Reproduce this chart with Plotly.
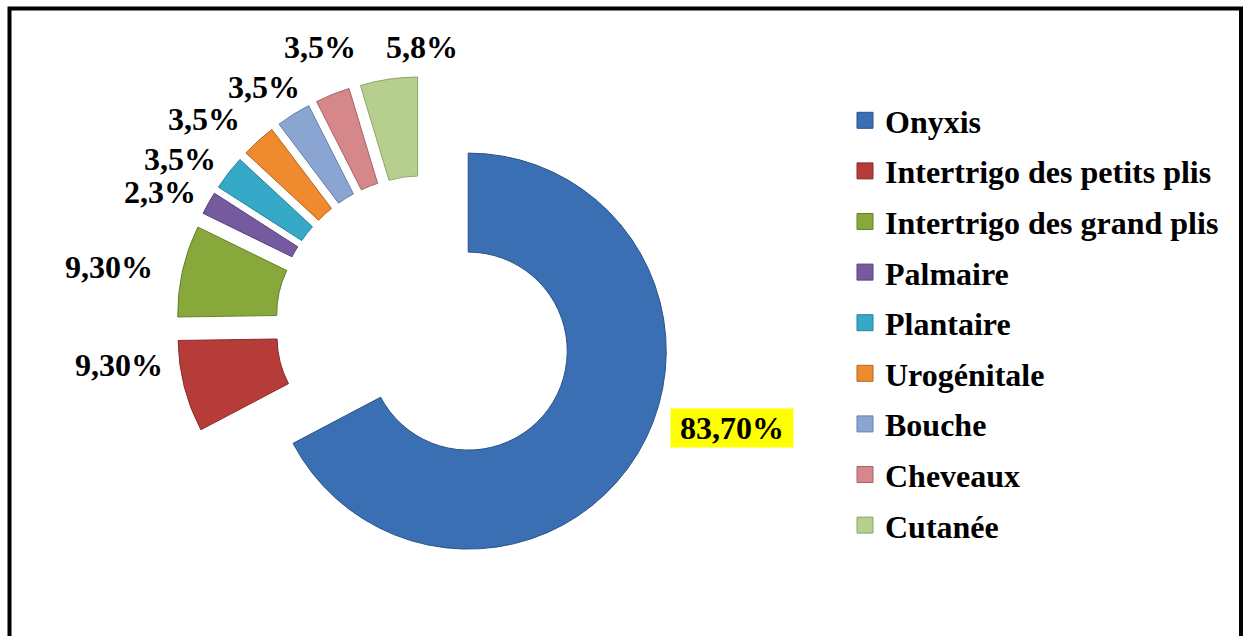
import math
import plotly.graph_objects as go

# Localisations cliniques et leur part (%)
categories = [
    "Onyxis",
    "Intertrigo des petits plis",
    "Intertrigo des grand plis",
    "Palmaire",
    "Plantaire",
    "Urogénitale",
    "Bouche",
    "Cheveaux",
    "Cutanée",
]
values = [83.7, 9.3, 9.3, 2.3, 3.5, 3.5, 3.5, 3.5, 5.8]
value_labels = ["83,70%", "9,30%", "9,30%", "2,3%", "3,5%", "3,5%", "3,5%", "3,5%", "5,8%"]

colors = ["#3A6FB3", "#B63C3A", "#88A83C", "#765AA0", "#36A9C9",
          "#EF8A2E", "#8AA5D1", "#D5878A", "#B6CF8E"]
edge_colors = ["#2A5288", "#8A2B29", "#66802A", "#57407A", "#24829C",
               "#B8651C", "#6580AA", "#A86266", "#8CA668"]

W, H = 1244, 636
FONT = "Liberation Serif, Times New Roman, serif"

# pie placement (pixels): centre, outer radius and explosion
cx, cy = 425, 325
radius = 198
pull = 0.255
half = radius * (1 + pull)

fig = go.Figure()

fig.add_trace(go.Pie(
    labels=categories,
    values=values,
    sort=False,
    direction="clockwise",
    rotation=0,
    hole=0.5,
    pull=[pull] * len(values),
    marker=dict(colors=colors, line=dict(color=edge_colors, width=1)),
    textinfo="none",
    hoverinfo="label+value",
    showlegend=False,
    domain=dict(x=[(cx - half) / W, (cx + half) / W],
                y=[1 - (cy + half) / H, 1 - (cy - half) / H]),
))

# legend entries, one group each so the rows can be spaced apart
for name, col, edge in zip(categories, colors, edge_colors):
    fig.add_trace(go.Scatter(
        x=[None], y=[None], mode="markers", name=name,
        legendgroup=name,
        marker=dict(symbol="square", size=16, color=col, line=dict(color=edge, width=1)),
        hoverinfo="skip",
    ))

# value labels placed around the ring (angle turn in degrees, distance in px)
label_turn = [-12.5, 6.9, -2.2, -2.7, -3.7, -4.9, -2.1, 1.1, 7.8]
label_dist = [324, 309, 321, 296, 296, 302, 287, 297, 278]

total = sum(values)
start = 0.0
annotations = []
for i, (v, txt) in enumerate(zip(values, value_labels)):
    span = v / total * 360.0
    mid = start + span / 2 + label_turn[i]
    start += span
    a = math.radians(mid)
    px = cx + label_dist[i] * math.sin(a)
    py = cy - label_dist[i] * math.cos(a)
    ann = dict(
        x=px / W, y=1 - py / H, xref="paper", yref="paper",
        xanchor="center", yanchor="middle", showarrow=False,
        text=txt,
        font=dict(family=FONT, size=32, color="black", weight="bold"),
    )
    if i == 0:
        ann.update(text="\u00a0" + txt + "\u00a0", bgcolor="#FFFF00", borderpad=1)
    annotations.append(ann)

fig.update_layout(
    width=W, height=H,
    margin=dict(l=0, r=0, t=0, b=0),
    paper_bgcolor="white",
    plot_bgcolor="white",
    xaxis=dict(visible=False),
    yaxis=dict(visible=False),
    annotations=annotations,
    legend=dict(
        x=845 / W, y=1 - 93 / H, xanchor="left", yanchor="top",
        font=dict(family=FONT, size=32, color="black", weight="bold"),
        tracegroupgap=6,
        itemwidth=30,
        bgcolor="rgba(0,0,0,0)",
    ),
    shapes=[dict(
        type="rect", xref="paper", yref="paper",
        x0=9.5 / W, x1=1241 / W, y0=-0.05, y1=1 - 8.5 / H,
        line=dict(color="black", width=4), fillcolor="rgba(0,0,0,0)",
    )],
)

fig.write_html("out.html")
